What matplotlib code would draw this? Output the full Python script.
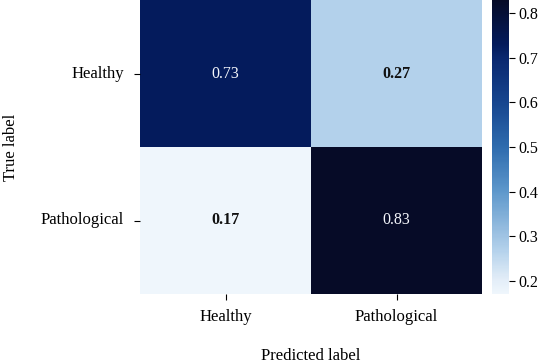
import matplotlib
matplotlib.use("Agg")
import matplotlib.pyplot as plt
import numpy as np
import seaborn as sns
from matplotlib.colors import LinearSegmentedColormap

labels = ["Healthy", "Pathological"]
values = [[0.73, 0.27],
          [0.17, 0.83]]
cbar_ticks = [0.2, 0.3, 0.4, 0.5, 0.6, 0.7, 0.8]

plt.rcParams['font.family'] = ['Liberation Serif', 'DejaVu Serif']

cmap = LinearSegmentedColormap.from_list("custom_blues", [
    (0.0, "#eff6fc"),
    (0.045, "#e4eef8"),
    (0.15, "#b3d1eb"),
    (0.197, "#9fc3e3"),
    (0.35, "#5d97cb"),
    (0.5, "#2e6bae"),
    (0.65, "#17468f"),
    (0.80, "#0a2870"),
    (0.85, "#041b5c"),
    (1.0, "#060b27"),
])

fig = plt.figure(figsize=(5.41, 3.64), dpi=100)
ax = fig.add_axes([140/541, 1-294/364, 342/541, 294/364])
cax = fig.add_axes([492/541, 1-294/364, 17/541, 294/364])

data = np.array(values)
sns.heatmap(data, ax=ax, cbar_ax=cax, cmap=cmap, vmin=0.17, vmax=0.83,
            annot=True, fmt=".2f", annot_kws={"fontsize": 11.5},
            xticklabels=labels, yticklabels=labels)
for t in ax.texts:
    v = float(t.get_text())
    if v > 0.5:
        t.set_color("#f4f6fb")
    else:
        t.set_color("#111111")
        t.set_fontweight("bold")

ax.tick_params(axis='both', labelsize=12, length=4.5, width=0.8)
ax.tick_params(axis='y', pad=7)
ax.tick_params(axis='x', pad=6)
ax.set_yticklabels(labels, rotation=0)
ax.set_xlabel("Predicted label", fontsize=12, labelpad=17)
ax.set_ylabel("True label", fontsize=12, labelpad=16)

cax.set_yticks(cbar_ticks)
cax.set_yticklabels([f"{t:.1f}" for t in cbar_ticks])
cax.tick_params(labelsize=11.5, length=4, width=0.8, pad=3)
for s in cax.spines.values():
    s.set_visible(False)

fig.savefig("out.png", dpi=100)
